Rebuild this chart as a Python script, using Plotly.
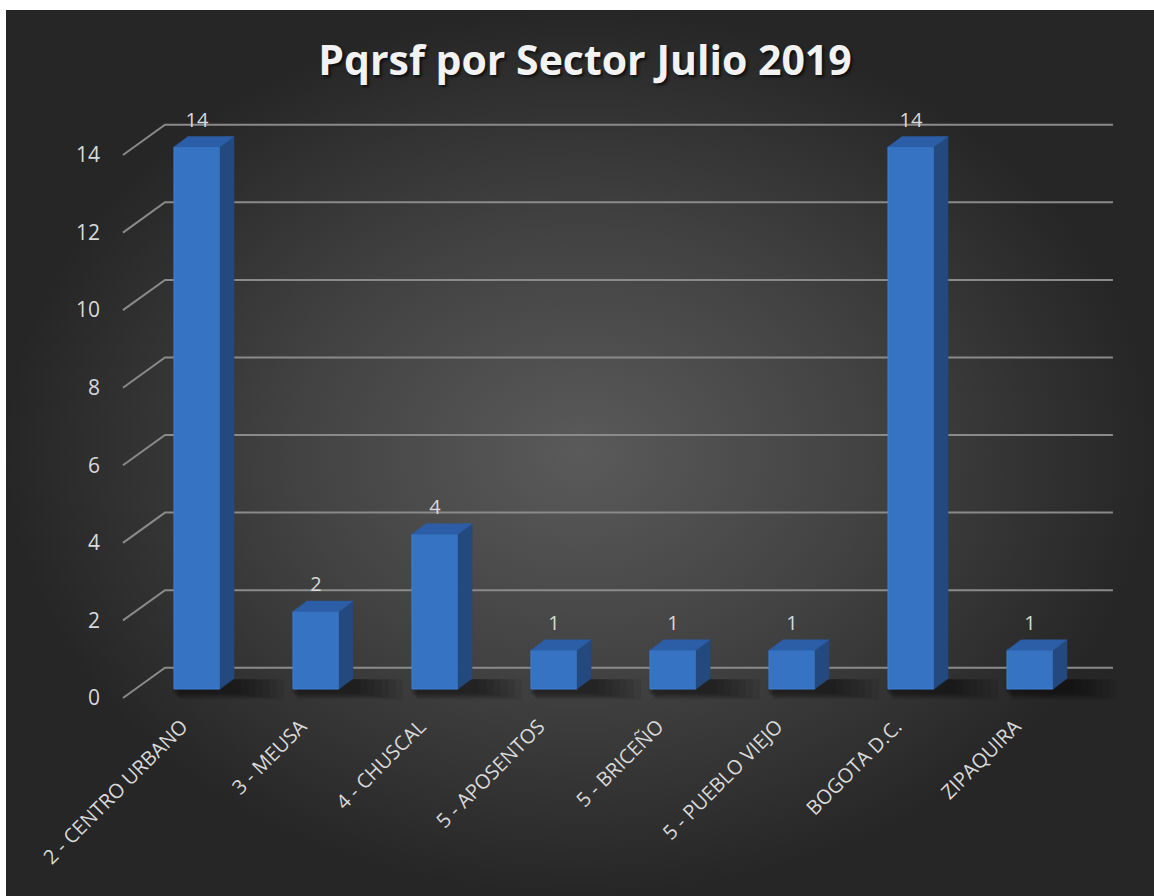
import plotly.graph_objects as go

# ---- data ----
categories = ["2 - CENTRO URBANO", "3 - MEUSA", "4 - CHUSCAL", "5 - APOSENTOS",
              "5 - BRICEÑO", "5 - PUEBLO VIEJO", "BOGOTA D.C.", "ZIPAQUIRA"]
values = [14, 2, 4, 1, 1, 1, 14, 1]
y_ticks = [0, 2, 4, 6, 8, 10, 12, 14]
title_text = "Pqrsf por Sector Julio 2019"

# ---- style constants (3D look, in axis units) ----
W, H = 1154, 896
BAR_W = 0.387      # front face width (category units)
DEPTH_X = 0.118    # side depth in x
DEPTH_Y = 0.27     # side depth in y
BACK_OFF = 0.78    # back wall offset (value units, label frame)
LABEL_PAD = 0.12   # data label lift above the bar top
X_LEFT, X_BACK, X_RIGHT = -0.622, -0.269, 7.697
FONT = "Open Sans"

idx = list(range(len(categories)))

fig = go.Figure()

# background panel with radial gradient
bx0, bx1, by0, by1 = 6 / W, 1.0, 0.0, 1 - 10 / H
fig.add_trace(go.Scatter(
    x=[bx0, bx1, bx1, bx0, bx0], y=[by0, by0, by1, by1, by0],
    mode="lines", line=dict(width=0), fill="toself",
    fillgradient=dict(type="radial", colorscale=[[0, "#5a5a5a"], [0.5, "#424242"], [1, "#262626"]]),
    hoverinfo="skip", showlegend=False, xaxis="x", yaxis="y"))

# gridlines + floor diagonals (back wall)
gx, gy = [], []
for t in y_ticks:
    gx += [X_LEFT, X_BACK, X_RIGHT, None]
    gy += [t, t + BACK_OFF, t + BACK_OFF, None]
fig.add_trace(go.Scatter(x=gx, y=gy, mode="lines",
                         line=dict(color="#8a8a8a", width=2),
                         hoverinfo="skip", showlegend=False, xaxis="x2", yaxis="y2"))

# soft shadows on the floor (drawn in a lower overlay)
for k in range(7):
    spread = 0.06 + 0.06 * k
    sx, sy = [], []
    for i in idx:
        l = i - BAR_W / 2 - 0.02 + spread * 0.15
        r = i + BAR_W / 2 + DEPTH_X + spread
        b = -0.08 - spread * 0.45
        t = DEPTH_Y - 0.02
        sx += [l, r, r, l, l, None]
        sy += [b, b, t, t, b, None]
    fig.add_trace(go.Scatter(x=sx, y=sy, mode="lines", line=dict(width=0), fill="toself",
                             fillcolor="rgba(0,0,0,0.07)", hoverinfo="skip",
                             showlegend=False, xaxis="x2", yaxis="y3"))

# front faces
fig.add_trace(go.Bar(x=idx, y=values, width=BAR_W,
                     marker=dict(color="#3673c3", line=dict(color="#3f7fd2", width=1)),
                     hoverinfo="skip", showlegend=False, xaxis="x2", yaxis="y4"))

# side faces
sx, sy = [], []
for i, v in zip(idx, values):
    r = i + BAR_W / 2
    sx += [r, r + DEPTH_X, r + DEPTH_X, r, r, None]
    sy += [0, DEPTH_Y, v + DEPTH_Y, v, 0, None]
fig.add_trace(go.Scatter(x=sx, y=sy, mode="lines", line=dict(width=0.5, color="#24497e"),
                         fill="toself", fillcolor="#24497e", hoverinfo="skip",
                         showlegend=False, xaxis="x2", yaxis="y4"))

# top faces
tx, ty = [], []
for i, v in zip(idx, values):
    l, r = i - BAR_W / 2, i + BAR_W / 2
    tx += [l, r, r + DEPTH_X, l + DEPTH_X, l, None]
    ty += [v, v, v + DEPTH_Y, v + DEPTH_Y, v, None]
fig.add_trace(go.Scatter(x=tx, y=ty, mode="lines", line=dict(width=0.5, color="#2b5ea6"),
                         fill="toself", fillcolor="#2b5ea6", hoverinfo="skip",
                         showlegend=False, xaxis="x2", yaxis="y4"))

# data labels
fig.add_trace(go.Scatter(x=idx, y=[v + DEPTH_Y + LABEL_PAD for v in values],
                         mode="text", text=[str(v) for v in values], textposition="top center",
                         textfont=dict(family=FONT, size=20, color="#d9d9d9"),
                         hoverinfo="skip", showlegend=False, xaxis="x2", yaxis="y4"))

# axis ranges (pixel calibration)
x_per = 119.0
x0 = -197 / x_per
y2_per = 38.786
y3_per = 38.714
bar_range = [-(H - 689) / y3_per, 689 / y3_per]

fig.update_layout(
    width=W, height=H,
    margin=dict(l=0, r=0, t=0, b=0),
    paper_bgcolor="white", plot_bgcolor="rgba(0,0,0,0)",
    showlegend=False,
    title=dict(text=title_text, x=585 / W, xanchor="center", y=1 - 61 / H, yanchor="middle",
               font=dict(family=FONT, size=41, color="#f2f2f2", weight="bold",
                         shadow="2px 2px 3px rgba(0,0,0,0.7)")),
    xaxis=dict(domain=[0, 1], range=[0, 1], visible=False, fixedrange=True),
    yaxis=dict(domain=[0, 1], range=[0, 1], visible=False, fixedrange=True),
    xaxis2=dict(overlaying="x", range=[x0, x0 + W / x_per], anchor="free", position=1 - 710 / H,
                tickmode="array", tickvals=idx, ticktext=categories, tickangle=-45,
                ticklabelshift=-15,
                showgrid=False, zeroline=False, showline=False, ticks="",
                tickfont=dict(family=FONT, size=20, color="#d9d9d9")),
    yaxis2=dict(overlaying="y", range=[-(H - 698) / y2_per, 698 / y2_per], anchor="free",
                position=100 / W, tickmode="array", tickvals=y_ticks,
                showgrid=False, zeroline=False, showline=False, ticks="",
                tickfont=dict(family=FONT, size=21, color="#d9d9d9")),
    yaxis3=dict(overlaying="y", range=bar_range, visible=False),
    yaxis4=dict(overlaying="y", range=bar_range, visible=False),
    barmode="overlay",
)

fig.write_html("out.html", config={"displayModeBar": False},
               post_script="document.body.style.margin='0';document.body.style.overflow='hidden';")
